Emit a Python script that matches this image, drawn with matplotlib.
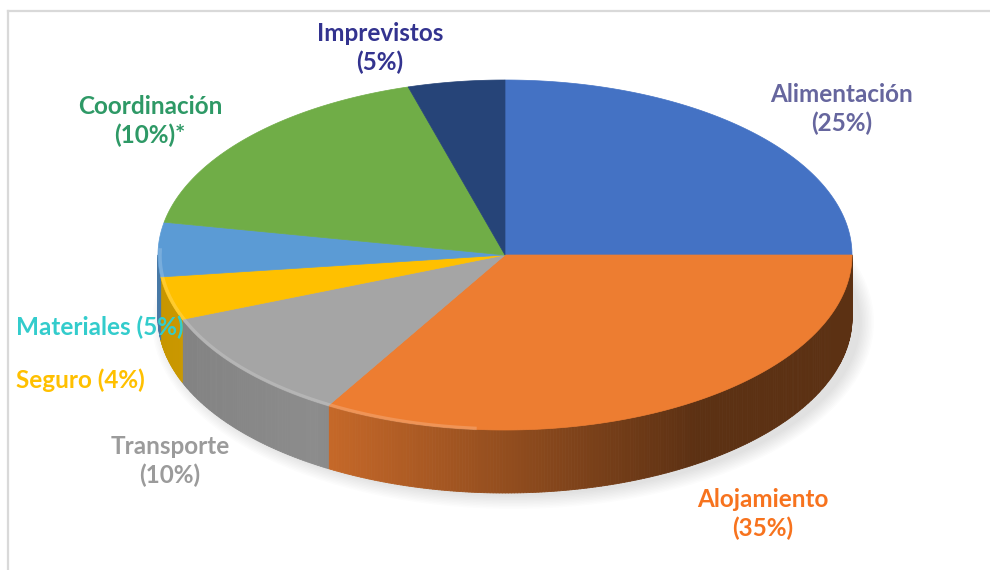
import numpy as np
import matplotlib
matplotlib.use("Agg")
import matplotlib.pyplot as plt
from matplotlib.patches import Polygon, Ellipse
from matplotlib.collections import PolyCollection
from matplotlib.colors import to_rgb

# -----------------------------
# Data (slice sizes)
# -----------------------------
categories = ["Alimentación", "Alojamiento", "Transporte", "Seguro",
              "Materiales", "Coordinación", "Imprevistos"]
values = [25, 33.5, 10.5, 4, 5, 17.5, 4.5]
label_texts = ["Alimentación\n(25%)", "Alojamiento\n(35%)", "Transporte\n(10%)",
               "Seguro (4%)", "Materiales (5%)", "Coordinación\n(10%)*",
               "Imprevistos\n(5%)"]
slice_colors = ["#4472C4", "#ED7D31", "#A5A5A5", "#FFC000",
                "#5B9BD5", "#70AD47", "#264478"]
label_colors = ["#66669E", "#F7731E", "#9B9B9B", "#FFC000",
                "#33CCCC", "#2E9966", "#33338F"]

# -----------------------------
# Layout (pixel coords)
# -----------------------------
cx, cy = 505, 255
rx, ry = 347, 175
depth = 63

label_pos = {
    "Alimentación": (842, 109, "center"),
    "Alojamiento": (763, 514, "center"),
    "Transporte": (170, 461, "center"),
    "Seguro": (16, 380, "left"),
    "Materiales": (16, 327, "left"),
    "Coordinación": (150, 121, "center"),
    "Imprevistos": (380, 48, "center"),
}

fig = plt.figure(figsize=(9.9, 5.7), dpi=100)
ax = fig.add_axes([0, 0, 1, 1])
ax.set_xlim(0, 990)
ax.set_ylim(570, 0)
ax.axis("off")

# chart frame (only top/left visible)
ax.plot([8, 8], [570, 11], color="#D9D9D9", lw=1.6, zorder=0)
ax.plot([8, 990], [11, 11], color="#D9D9D9", lw=1.6, zorder=0)

# soft shadow under the pie
for k in range(10):
    ax.add_patch(Ellipse((cx + 8, cy + depth + 4), 2 * (rx + 14 - k * 1.5),
                         2 * (ry + 12 - k * 1.5), color="#000000",
                         alpha=0.012, lw=0, zorder=1))


def pt(t, dy=0.0):
    r = np.radians(t)
    return cx + rx * np.cos(r), cy - ry * np.sin(r) + dy


def shade(t):
    u = np.cos(np.radians(t))
    return np.interp(u, [-1, -0.55, 0.55, 1], [0.78, 0.85, 0.39, 0.39])


fracs = np.array(values, dtype=float) / sum(values)
cum = np.concatenate([[0], np.cumsum(fracs)])

# side walls (front half only)
polys, cols = [], []
for i, c in enumerate(slice_colors):
    t_start = 90 - 360 * cum[i]
    t_end = 90 - 360 * cum[i + 1]
    lo, hi = max(t_end, -180), min(t_start, 0)
    if lo >= hi:
        continue
    ts = np.linspace(hi, lo, max(int((hi - lo) * 2), 2))
    base = np.array(to_rgb(c))
    for a, b in zip(ts[:-1], ts[1:]):
        polys.append([pt(a), pt(b), pt(b, depth), pt(a, depth)])
        cols.append(np.clip(base * shade((a + b) / 2), 0, 1))
ax.add_collection(PolyCollection(polys, facecolors=cols, edgecolors=cols,
                                 linewidths=0.6, zorder=2))

# top surface
for i, c in enumerate(slice_colors):
    t_start = 90 - 360 * cum[i]
    t_end = 90 - 360 * cum[i + 1]
    ts = np.linspace(t_start, t_end, 200)
    xy = [(cx, cy)] + [pt(t) for t in ts]
    ax.add_patch(Polygon(xy, closed=True, facecolor=c, edgecolor=c,
                         lw=0.5, zorder=3))

# subtle bevel highlight along the front-left rim
ts = np.linspace(-182, -95, 150)
hx = cx + (rx - 2) * np.cos(np.radians(ts))
hy = cy - (ry - 2) * np.sin(np.radians(ts)) + 1
ax.plot(hx, hy, color="white", alpha=0.18, lw=2.5, zorder=4)

# labels
for name, txt, col in zip(categories, label_texts, label_colors):
    x, y, ha = label_pos[name]
    ax.text(x, y, txt, color=col, ha=ha, va="center", fontsize=17.5,
            fontweight="bold", family="Lato", linespacing=1.3, zorder=5)

plt.savefig("out.png", dpi=100)
